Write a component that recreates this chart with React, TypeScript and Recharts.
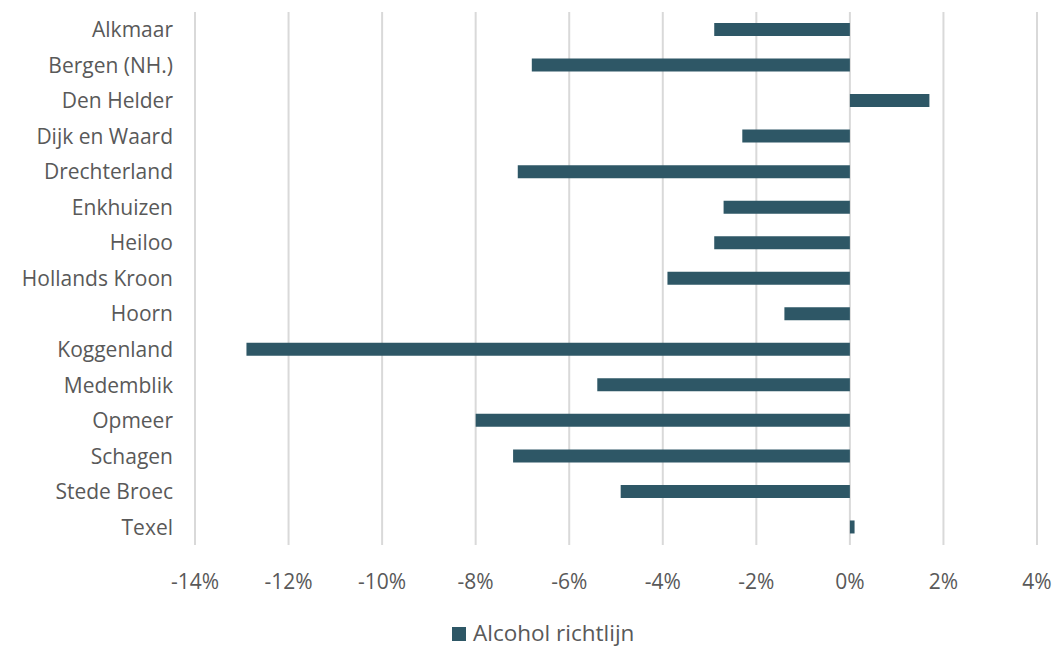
import React from 'react';
import { BarChart, Bar, XAxis, YAxis, CartesianGrid, Legend } from 'recharts';

const gemeenten = [
  'Alkmaar', 'Bergen (NH.)', 'Den Helder', 'Dijk en Waard', 'Drechterland', 'Enkhuizen', 'Heiloo',
  'Hollands Kroon', 'Hoorn', 'Koggenland', 'Medemblik', 'Opmeer', 'Schagen', 'Stede Broec', 'Texel',
];
const alcoholRichtlijn = [
  -2.9, -6.8, 1.7, -2.3, -7.1, -2.7, -2.9, -3.9, -1.4, -12.9, -5.4, -8.0, -7.2, -4.9, 0.1,
];
const xTicks = [-14, -12, -10, -8, -6, -4, -2, 0, 2, 4];
const seriesName = 'Alcohol richtlijn';
const barColor = '#2e5766';
const textColor = '#595959';
const fontFamily = '"Open Sans", sans-serif';

const data = gemeenten.map((g, i) => ({ name: g, value: alcoholRichtlijn[i] }));

const LegendContent = () => (
  <div style={{ display: 'flex', alignItems: 'center', fontFamily, fontSize: 22.5, color: textColor, whiteSpace: 'nowrap', lineHeight: '26px' }}>
    <span style={{ display: 'inline-block', width: 14, height: 14, background: barColor, marginRight: 7, marginTop: 2 }} />
    <span>{seriesName}</span>
  </div>
);

export default function App() {
  return (
    <div style={{ position: 'absolute', left: 0, top: 0, width: 1056, height: 648, background: '#fff' }}>
      <BarChart
        width={1056}
        height={648}
        data={data}
        layout="vertical"
        margin={{ top: 12, right: 19, bottom: 0, left: 0 }}
        barCategoryGap={0}
      >
        <CartesianGrid horizontal={false} stroke="#d9d9d9" strokeWidth={2} />
        <XAxis
          type="number"
          domain={[-14, 4]}
          ticks={xTicks}
          tickFormatter={(v) => `${v}%`}
          axisLine={false}
          tickLine={false}
          tickSize={0}
          tickMargin={29}
          height={103}
          tick={{ fill: textColor, fontSize: 21, fontFamily }}
        />
        <YAxis
          type="category"
          dataKey="name"
          width={195}
          axisLine={false}
          tickLine={false}
          tickSize={0}
          tickMargin={22}
          interval={0}
          tick={{ fill: textColor, fontSize: 21, fontFamily }}
        />
        <Legend
          layout="horizontal"
          verticalAlign="middle"
          align="center"
          content={<LegendContent />}
          wrapperStyle={{ left: 452, top: 620, width: 260, height: 26 }}
        />
        <Bar dataKey="value" name={seriesName} fill={barColor} barSize={13} isAnimationActive={false} />
      </BarChart>
    </div>
  );
}
